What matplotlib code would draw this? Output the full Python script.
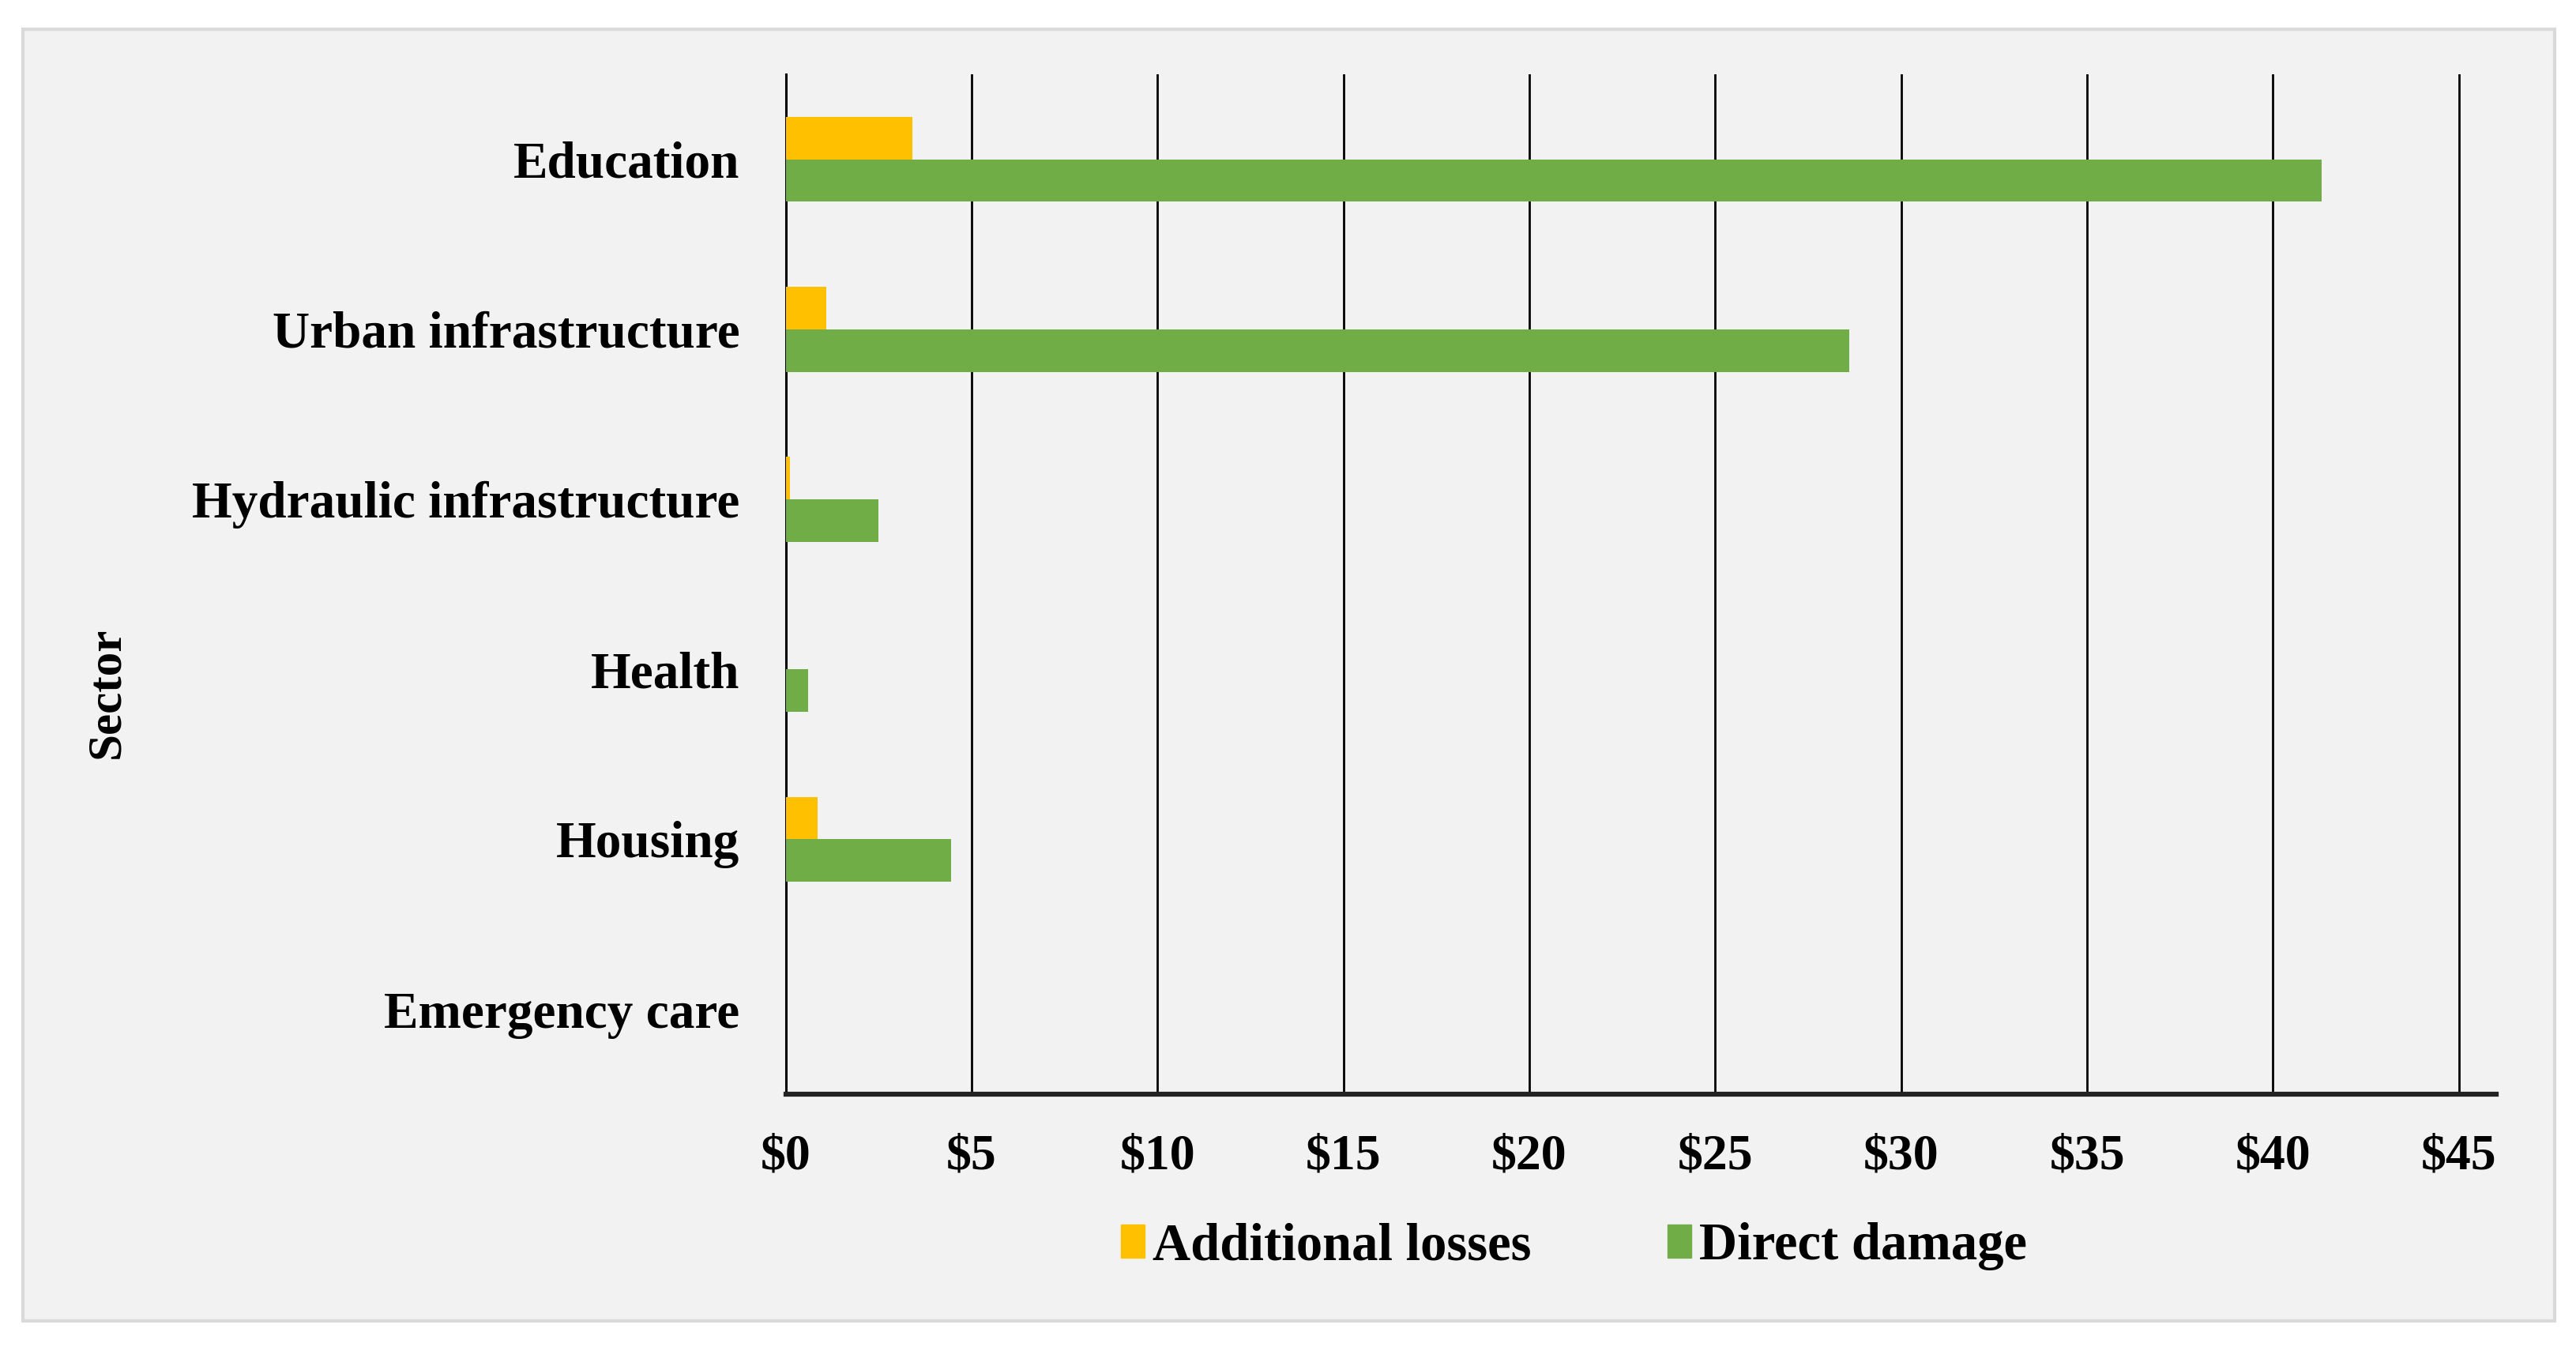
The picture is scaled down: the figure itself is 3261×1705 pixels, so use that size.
import numpy as np
import matplotlib
matplotlib.use('Agg')
import matplotlib.pyplot as plt
from matplotlib.patches import Rectangle, Patch

sectors = ['Education', 'Urban infrastructure', 'Hydraulic infrastructure',
           'Health', 'Housing', 'Emergency care']
additional_losses = [3.4, 1.1, 0.12, 0.0, 0.85, 0.0]
direct_damage = [41.3, 28.6, 2.5, 0.6, 4.45, 0.0]
xticks = [0, 5, 10, 15, 20, 25, 30, 35, 40, 45]

YELLOW = '#FFC000'
GREEN = '#70AD47'
FONT = 'Liberation Serif'

plt.rcParams['font.family'] = FONT
plt.rcParams['font.weight'] = 'bold'

fig = plt.figure(figsize=(32.61, 17.05), dpi=100)
fig.patch.set_facecolor('white')

# outer grey panel, drawn under the axes
fig.patches.append(Rectangle((0.0089, 0.0194), 0.9828, 0.9589, transform=fig.transFigure,
                             facecolor='#F2F2F2', edgecolor='#D9D9D9', linewidth=3, zorder=-5))

ax = fig.add_axes([0.3050, 0.1875, 0.9690 - 0.3050, 0.9449 - 0.1875])
ax.set_facecolor('none')

y = np.arange(len(sectors))
h = 0.25
ax.barh(y - h / 2, additional_losses, height=h, color=YELLOW, zorder=3)
ax.barh(y + h / 2, direct_damage, height=h, color=GREEN, zorder=3)

ax.set_ylim(len(sectors) - 0.5, -0.5)
ax.set_xlim(0, 46)
ax.set_xticks(xticks)
ax.set_xticklabels(['$' + str(v) for v in xticks])
ax.set_yticks(y)
ax.set_yticklabels(sectors)

for v in xticks[1:]:
    ax.axvline(v, color='black', linewidth=2, zorder=2)

for s in ['top', 'right']:
    ax.spines[s].set_visible(False)
ax.spines['left'].set_linewidth(2.2)
ax.spines['bottom'].set_linewidth(4.5)
ax.spines['bottom'].set_color('#222222')
ax.spines['bottom'].set_zorder(4)

ax.tick_params(axis='x', length=0, pad=36, labelsize=46)
ax.tick_params(axis='y', length=0, pad=42, labelsize=47)

fig.text(0.0414, 0.486, 'Sector', rotation=90, ha='center', va='center',
         fontsize=44, fontweight='bold')

handles = [Patch(color=YELLOW, label='Additional losses'),
           Patch(color=GREEN, label='Direct damage')]
fig.legend(handles=handles, loc='center', bbox_to_anchor=(0.611, 0.0745), ncol=2,
           frameon=False, fontsize=48, handlelength=0.45, handleheight=0.6,
           handletextpad=0.15, columnspacing=2.6)

fig.savefig('out.png', dpi=100)
